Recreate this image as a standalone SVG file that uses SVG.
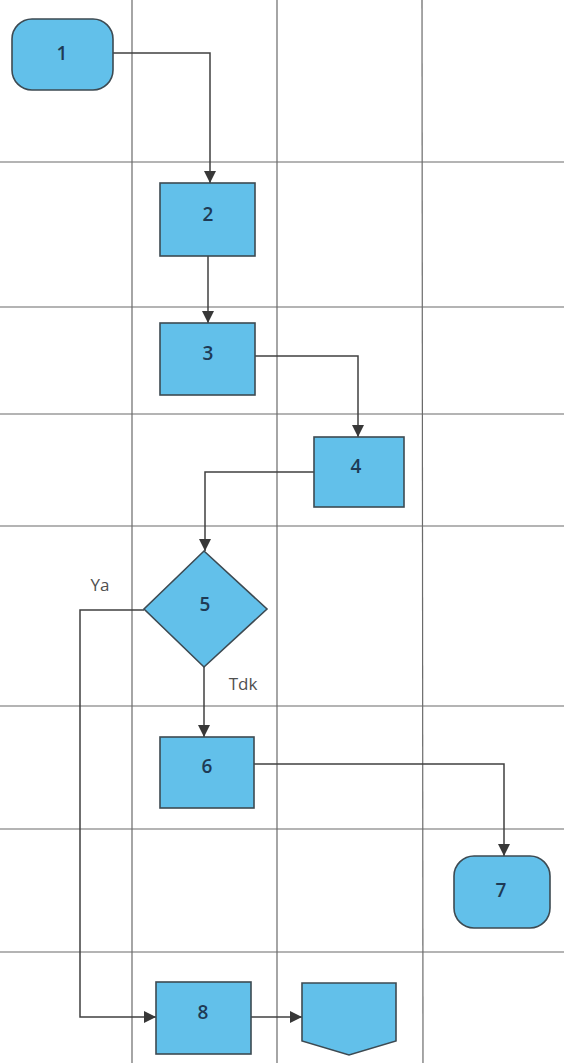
<svg xmlns="http://www.w3.org/2000/svg" width="564" height="1063" viewBox="0 0 564 1063">
<style>
.grid{stroke:#6a6a6a;stroke-width:1.2;fill:none}
.node{fill:#62c0ea;stroke:#3d4a52;stroke-width:1.6}
.lbl{font-family:"Open Sans","Liberation Sans",sans-serif;font-size:19px;font-weight:600;fill:#1e3a55;text-anchor:middle;dominant-baseline:central}
.edge{stroke:#404040;stroke-width:1.5;fill:none;marker-end:url(#arr)}
.elbl{font-family:"Open Sans","Liberation Sans",sans-serif;font-size:17px;fill:#505050;text-anchor:middle;dominant-baseline:central}
</style>
<defs>
<marker id="arr" markerWidth="12" markerHeight="12" refX="10" refY="5" orient="auto" markerUnits="userSpaceOnUse" viewBox="0 0 10 10">
<path d="M0,0 L10,5 L0,10 z" fill="#383838"/>
</marker>
</defs>
<rect width="564" height="1063" fill="#ffffff"/>
<g id="grid">
<line class="grid" x1="132" y1="0" x2="132" y2="1063"/>
<line class="grid" x1="277" y1="0" x2="277" y2="1063"/>
<line class="grid" x1="422" y1="0" x2="423" y2="1063"/>
<line class="grid" x1="0" y1="162" x2="564" y2="162"/>
<line class="grid" x1="0" y1="307" x2="564" y2="307"/>
<line class="grid" x1="0" y1="414" x2="564" y2="414"/>
<line class="grid" x1="0" y1="526" x2="564" y2="526"/>
<line class="grid" x1="0" y1="706" x2="564" y2="706"/>
<line class="grid" x1="0" y1="829" x2="564" y2="829"/>
<line class="grid" x1="0" y1="952" x2="564" y2="952"/>
</g>
<g id="connectors">
<path class="edge" d="M113,53 H210 V183"/>
<path class="edge" d="M208,256 V323"/>
<path class="edge" d="M255,356 H358 V437"/>
<path class="edge" d="M314,472 H205 V551"/>
<path class="edge" d="M204,667 V737"/>
<path class="edge" d="M144,610 H80 V1017 H156"/>
<path class="edge" d="M254,764 H504 V856"/>
<path class="edge" d="M251,1017 H302"/>
<text class="elbl" x="100" y="584">Ya</text>
<text class="elbl" x="243" y="683">Tdk</text>
</g>
<g id="n1"><rect class="node" x="12" y="19" width="101" height="71" rx="20"/><text class="lbl" x="62" y="53">1</text></g>
<g id="n2"><rect class="node" x="160" y="183" width="95" height="73"/><text class="lbl" x="208" y="214">2</text></g>
<g id="n3"><rect class="node" x="160" y="323" width="95" height="72"/><text class="lbl" x="208" y="353">3</text></g>
<g id="n4"><rect class="node" x="314" y="437" width="90" height="70"/><text class="lbl" x="356" y="466">4</text></g>
<g id="n5"><polygon class="node" points="204,551 267,609 204,667 144,609"/><text class="lbl" x="205" y="604">5</text></g>
<g id="n6"><rect class="node" x="160" y="737" width="94" height="71"/><text class="lbl" x="207" y="766">6</text></g>
<g id="n7"><rect class="node" x="454" y="856" width="96" height="72" rx="20"/><text class="lbl" x="501" y="890">7</text></g>
<g id="n8"><rect class="node" x="156" y="982" width="95" height="72"/><text class="lbl" x="203" y="1012">8</text></g>
<g id="n9"><polygon class="node" points="302,983 396,983 396,1041 349,1055 302,1041"/></g>
</svg>
